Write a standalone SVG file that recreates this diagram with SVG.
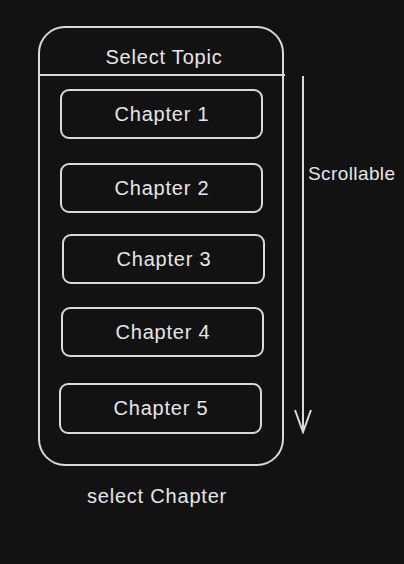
<svg xmlns="http://www.w3.org/2000/svg" width="404" height="564" viewBox="0 0 404 564">
<style>
.bx{fill:none;stroke:#d9d9d9;stroke-width:2}
.t{fill:#e6e6e6;font-family:"Liberation Sans",Arial,sans-serif;font-size:20px;letter-spacing:0.8px;text-anchor:middle;dominant-baseline:central}
.s{font-size:19px;letter-spacing:0.4px;text-anchor:start}
</style>
<defs>
<marker id="ah" markerWidth="26" markerHeight="18" refX="24" refY="9" orient="auto" markerUnits="userSpaceOnUse" viewBox="0 0 26 18">
<path d="M2 1 L24 9 L2 17" fill="none" stroke="#d9d9d9" stroke-width="2"/>
</marker>
</defs>
<rect width="404" height="564" fill="#121212"/>
<g id="phone">
<rect class="bx" x="39" y="27" width="244" height="438" rx="26"/>
<line class="bx" x1="38" y1="75" x2="285" y2="75"/>
<text class="t" x="164" y="57">Select Topic</text>
</g>
<g id="ch1"><rect class="bx" x="61" y="90" width="201" height="48" rx="8"/><text class="t" x="162" y="114">Chapter 1</text></g>
<g id="ch2"><rect class="bx" x="61" y="164" width="201" height="48" rx="8"/><text class="t" x="162" y="188">Chapter 2</text></g>
<g id="ch3"><rect class="bx" x="63" y="235" width="201" height="48" rx="8"/><text class="t" x="164" y="259">Chapter 3</text></g>
<g id="ch4"><rect class="bx" x="62" y="308" width="201" height="48" rx="8"/><text class="t" x="163" y="332">Chapter 4</text></g>
<g id="ch5"><rect class="bx" x="60" y="384" width="201" height="49" rx="8"/><text class="t" x="161" y="408">Chapter 5</text></g>
<g id="connectors">
<line x1="303" y1="76" x2="303" y2="432" stroke="#d9d9d9" stroke-width="2" marker-end="url(#ah)"/>
</g>
<g id="labels">
<text class="t s" x="308" y="173">Scrollable</text>
<text class="t" x="157" y="496">select Chapter</text>
</g>
</svg>
